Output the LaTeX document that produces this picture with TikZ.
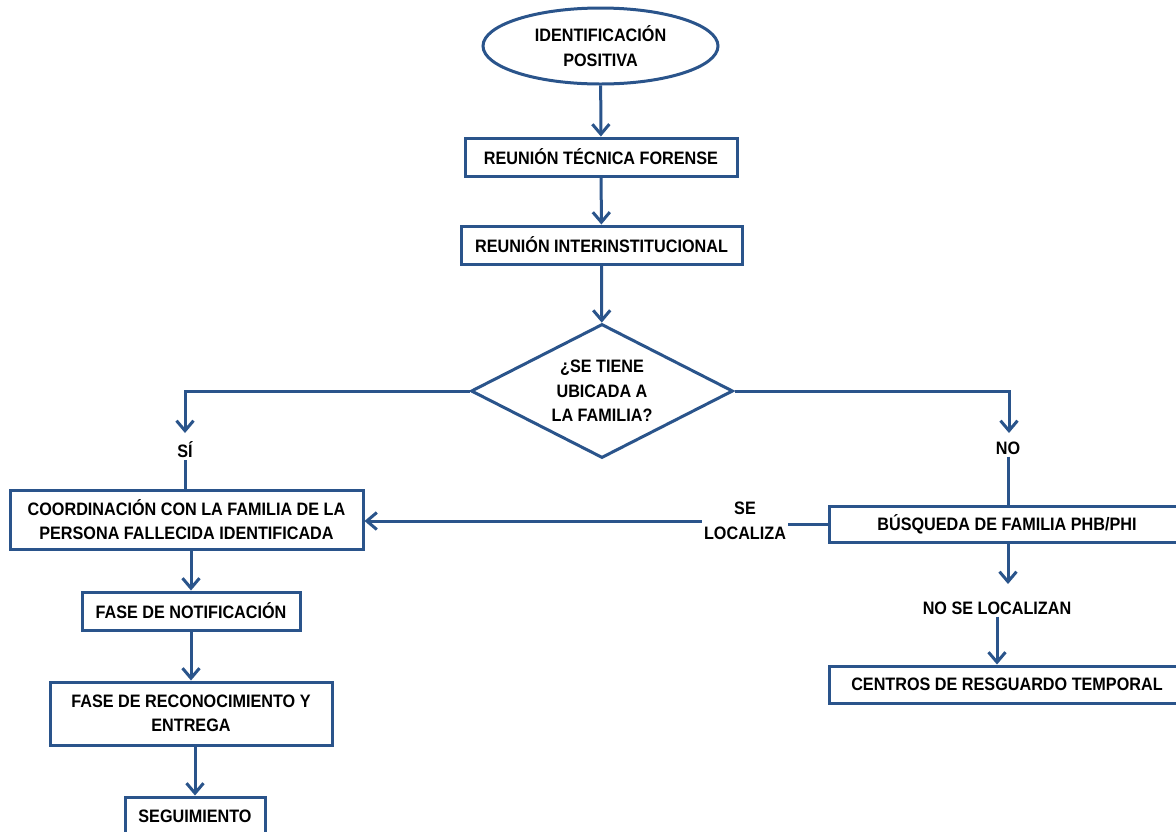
\documentclass[tikz,border=0pt]{standalone}
\usepackage{fontspec}
\setmainfont{Liberation Sans}[FakeStretch=0.9]
\usetikzlibrary{shapes.geometric,arrows.meta}
\definecolor{flowblue}{RGB}{42,84,139}
\begin{document}
\begin{tikzpicture} [x=1pt,y=-1pt,font=\fontsize{18}{24.5}\selectfont\bfseries,
		box/.style={draw=flowblue,line width=3pt,rectangle,inner sep=0pt,align=center},
		lbl/.style={inner sep=2pt,align=center},
		arr/.style={draw=flowblue,line width=3pt,-{Straight Barb[length=10pt,width=17pt,line width=3pt]}},
		ln/.style={draw=flowblue,line width=3pt}]
		\clip (0,0) rectangle (1176,831);
		\fill[white] (0,0) rectangle (1176,831);
		% centre column
		\node [box,ellipse,minimum width=235pt,minimum height=76pt] (ident) at (600.5,46) {IDENTIFICACIÓN\\POSITIVA};
		\node [box,minimum width=272pt,minimum height=38pt] (tecnica) at (601,157) {REUNIÓN TÉCNICA FORENSE};
		\node [box,minimum width=281pt,minimum height=38pt] (inter) at (601.5,245) {REUNIÓN INTERINSTITUCIONAL};
		\node [box,diamond,aspect=2,minimum width=262pt,minimum height=134pt] (fam) at (602,391) {¿SE TIENE\\UBICADA A\\LA FAMILIA?};
		% left column
		\node [box,minimum width=353pt,minimum height=59pt] (coord) at (186.5,519.5) {COORDINACIÓN CON LA FAMILIA DE LA\\PERSONA FALLECIDA IDENTIFICADA};
		\node [box,minimum width=218pt,minimum height=38pt] (notif) at (191,611) {FASE DE NOTIFICACIÓN};
		\node [box,minimum width=282pt,minimum height=63pt] (recon) at (191,713.5) {FASE DE RECONOCIMIENTO Y\\ENTREGA};
		\node [box,minimum width=140pt,minimum height=38pt] (segui) at (195,816) {SEGUIMIENTO};
		% right column
		\node [box,minimum width=356pt,minimum height=36pt] (busq) at (1007,524) {BÚSQUEDA DE FAMILIA PHB/PHI};
		\node [box,minimum width=356pt,minimum height=37pt] (centros) at (1007,684.5) {CENTROS DE RESGUARDO TEMPORAL};
		% labels
		\node [lbl] (si) at (185,450) {SÍ};
		\node [lbl] (no) at (1008,448) {NO};
		\node [lbl] (loc) at (745,521) {SE\\LOCALIZA};
		\node [lbl] (nosel) at (997,608) {NO SE LOCALIZAN};
		\coordinate (siEnd) at (185,433);
		\coordinate (noEnd) at (1009,433);
		\coordinate (busqEnd) at (1008,584);
		% connectors
		\draw [arr] (ident) -- (tecnica);
		\draw [arr] (tecnica) -- (inter);
		\draw [arr] (inter) -- (fam);
		\draw [arr] (fam.west) -| (siEnd);
		\draw [arr] (fam.east) -| (noEnd);
		\draw [ln] (si.south) -- (si.south |- coord.north);
		\draw [ln] (no.south) -- (no.south |- busq.north);
		\draw [ln] (busq.west) -- (busq.west -| loc.east);
		\draw [arr] (loc.west) -- (loc.west -| coord.east);
		\draw [arr] (busq.south -| busqEnd) -- (busqEnd);
		\draw [arr] (nosel.south) -- (nosel.south |- centros.north);
		\draw [arr] (coord.south -| notif) -- (notif);
		\draw [arr] (notif) -- (recon);
		\draw [arr] (recon.south -| segui) -- (segui);
	\end{tikzpicture}
\end{document}
